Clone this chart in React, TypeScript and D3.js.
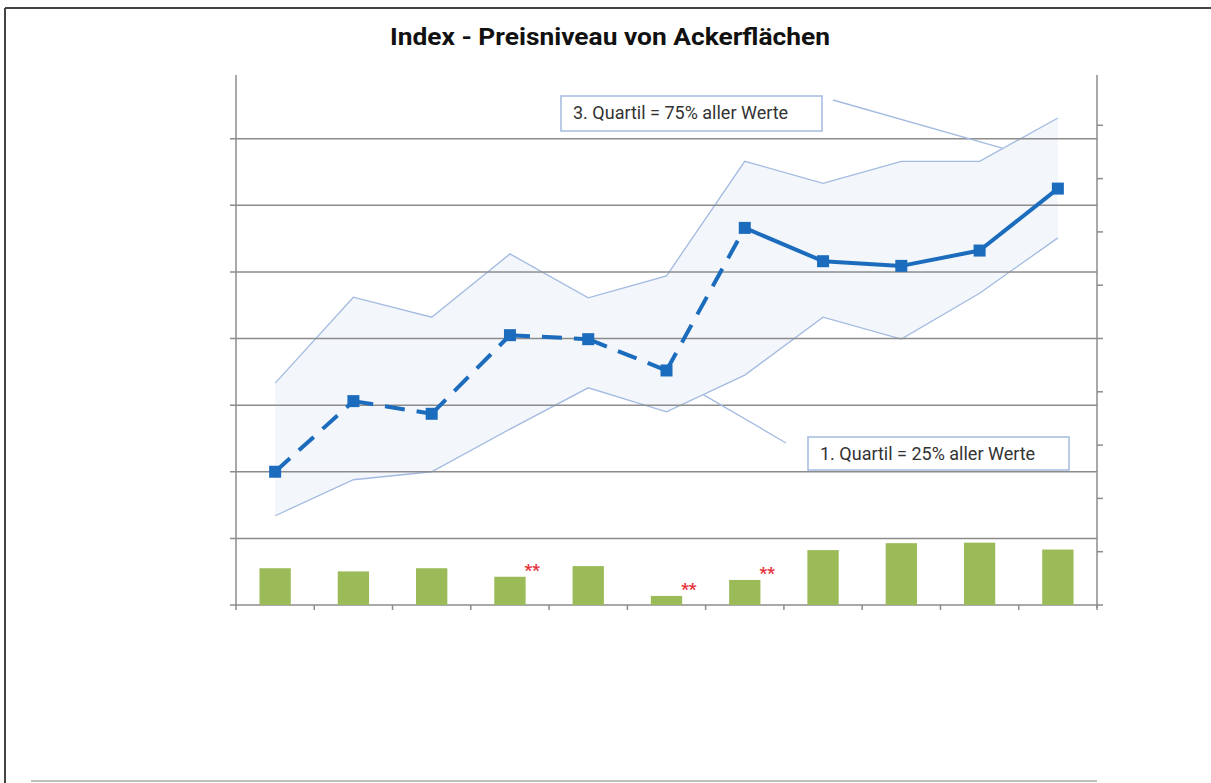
import React from "react"
import * as d3 from "d3"

// categories (labels are not shown in the chart)
const categories = ["1", "2", "3", "4", "5", "6", "7", "8", "9", "10", "11"]
// median index, left axis (0..8)
const median = [2.0, 3.06, 2.87, 4.05, 3.99, 3.52, 5.66, 5.16, 5.09, 5.32, 6.25]
// 3. quartile
const upper = [3.33, 4.62, 4.32, 5.27, 4.61, 4.94, 6.66, 6.33, 6.66, 6.66, 7.31]
// 1. quartile
const lower = [1.34, 1.88, 2.0, 2.64, 3.26, 2.9, 3.45, 4.32, 3.99, 4.68, 5.51]
// bars, right axis (0..10)
const bars = [0.69, 0.63, 0.69, 0.53, 0.73, 0.17, 0.47, 1.03, 1.16, 1.17, 1.04]
// bars marked with "**"
const starred = [3, 5, 6]
// first index drawn with a solid line
const solidFrom = 6

const leftTicks = d3.range(1, 8)
const rightTicks = d3.range(1, 10)

const W = 1211
const H = 783
const left = 236
const right = 1097
const top = 72
const bottom = 605

const axisColor = "#8c8c8c"
const blue = "#1c6cbd"
const bandLine = "#a3bbe0"
const bandFill = "#f3f6fb"
const green = "#9bbb59"
const font = "Roboto, 'Noto Sans', sans-serif"

export default function App() {
  const x = d3.scaleBand<string>().domain(categories).range([left, right])
  const yL = d3.scaleLinear().domain([0, 8]).range([bottom, top])
  const yR = d3.scaleLinear().domain([0, 10]).range([bottom, top])
  const cx = (i: number) => (x(categories[i]) as number) + x.bandwidth() / 2
  const bw = x.bandwidth() * 0.4

  const area = d3.area<number>()
    .x((d, i) => cx(i))
    .y0((d, i) => yL(lower[i]))
    .y1((d) => yL(d))
  const line = d3.line<number>().x((d, i) => cx(i)).y((d) => yL(d))

  // points on the quartile lines, for the annotation leaders
  const onLine = (arr: number[], i: number, t: number) => [
    cx(i) + (cx(i + 1) - cx(i)) * t,
    yL(arr[i] + (arr[i + 1] - arr[i]) * t),
  ]
  const up = onLine(upper, 9, 0.3)
  const lo = onLine(lower, 5, 0.47)

  const segs = median.slice(0, -1).map((d, i) => ({
    x1: cx(i), y1: yL(d), x2: cx(i + 1), y2: yL(median[i + 1]),
    dashed: i < solidFrom,
  }))

  return (
    <svg width={W} height={H} style={{ position: "absolute", left: 0, top: 0, background: "#fff" }}>
      {/* frame */}
      <line x1={5} y1={8} x2={W} y2={8} stroke="#444" strokeWidth={2} />
      <line x1={5} y1={8} x2={5} y2={H} stroke="#444" strokeWidth={2} />
      <line x1={31} y1={781} x2={right} y2={781} stroke="#aaa" strokeWidth={1.5} />

      <text x={390} y={45} fontFamily={font} fontWeight="bold" fontSize={23} fill="#111"
        textLength={440} lengthAdjust="spacingAndGlyphs">
        Index - Preisniveau von Ackerflächen
      </text>

      {/* quartile band */}
      <path d={area(upper) as string} fill={bandFill} />
      <path d={line(upper) as string} fill="none" stroke={bandLine} strokeWidth={1.3} />
      <path d={line(lower) as string} fill="none" stroke={bandLine} strokeWidth={1.3} />

      {/* grid + axes */}
      {leftTicks.map((t) => (
        <line key={"g" + t} x1={left - 6} x2={right} y1={yL(t)} y2={yL(t)} stroke={axisColor} strokeWidth={1.5} />
      ))}
      <line x1={left} x2={left} y1={top + 3} y2={bottom} stroke={axisColor} strokeWidth={1.5} />
      <line x1={right} x2={right} y1={top + 3} y2={bottom + 3} stroke={axisColor} strokeWidth={1.5} />
      {rightTicks.map((t) => (
        <line key={"r" + t} x1={right} x2={right + 6} y1={yR(t)} y2={yR(t)} stroke={axisColor} strokeWidth={1.5} />
      ))}
      <line x1={left - 6} x2={right + 6} y1={bottom} y2={bottom} stroke={axisColor} strokeWidth={1.5} />
      {categories.map((c) => (
        <line key={"x" + c} x1={x(c) as number} x2={x(c) as number} y1={bottom} y2={bottom + 5} stroke={axisColor} strokeWidth={1.5} />
      ))}
      <line x1={right} x2={right} y1={bottom} y2={bottom + 5} stroke={axisColor} strokeWidth={1.5} />

      {/* bars */}
      {bars.map((v, i) => (
        <rect key={"b" + i} x={cx(i) - bw / 2} y={yR(v)} width={bw} height={bottom - yR(v)} fill={green} />
      ))}
      {starred.map((i) => (
        <text key={"s" + i} x={cx(i) + bw / 2 - 1} y={yR(bars[i]) - 1} fontFamily={font} fontSize={17} fontWeight="bold" fill="#e8323c">
          **
        </text>
      ))}

      {/* median line */}
      {segs.map((s, i) => (
        <line key={"m" + i} x1={s.x1} y1={s.y1} x2={s.x2} y2={s.y2} stroke={blue} strokeWidth={4}
          strokeDasharray={s.dashed ? "20,12" : undefined} />
      ))}
      {median.map((d, i) => (
        <rect key={"p" + i} x={cx(i) - 6} y={yL(d) - 6} width={12} height={12} fill={blue} />
      ))}

      {/* annotations */}
      <line x1={833} y1={100} x2={up[0]} y2={up[1]} stroke={bandLine} strokeWidth={1.3} />
      <rect x={561} y={96} width={261} height={35} fill="#fff" stroke={bandLine} strokeWidth={1.5} />
      <text x={573} y={119} fontFamily={font} fontSize={18} fill="#333">3. Quartil = 75% aller Werte</text>

      <line x1={lo[0]} y1={lo[1]} x2={786} y2={443} stroke={bandLine} strokeWidth={1.3} />
      <rect x={808} y={437} width={261} height={33} fill="#fff" stroke={bandLine} strokeWidth={1.5} />
      <text x={820} y={460} fontFamily={font} fontSize={18} fill="#333">1. Quartil = 25% aller Werte</text>
    </svg>
  )
}
